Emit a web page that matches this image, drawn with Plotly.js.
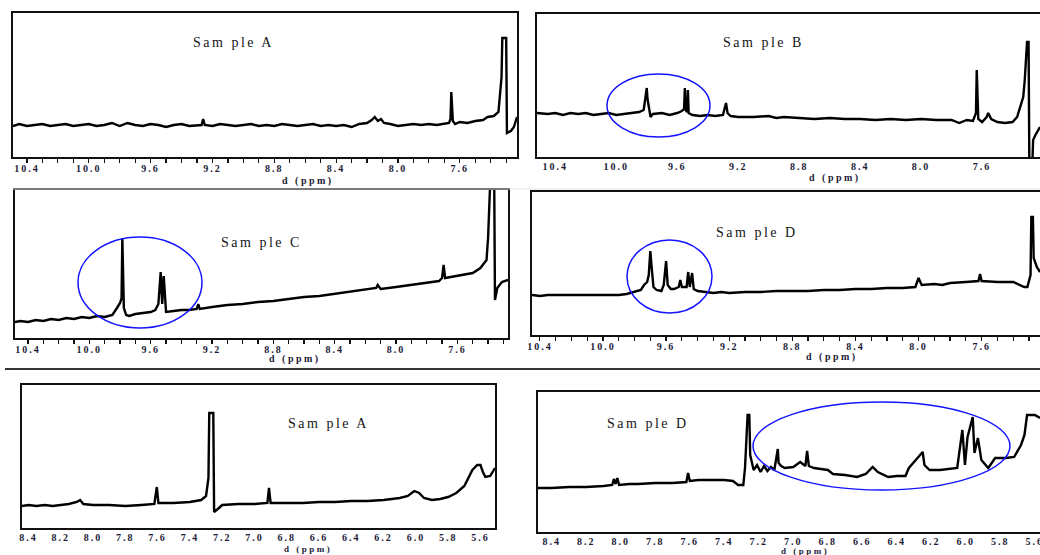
<!DOCTYPE html>
<html>
<head>
<meta charset="utf-8">
<script src="https://cdn.plot.ly/plotly-3.0.1.min.js"></script>
<style>
  html, body { margin: 0; padding: 0; background: #fff; }
  #chart { width: 1040px; height: 555px; }
  .annotation-text { letter-spacing: 2.5px; }
  .xaxislayer-above text { letter-spacing: 2px; }
</style>
</head>
<body>
<div id="chart"></div>
<script>
// ---------------- DATA (chemical shift ppm, intensity in arbitrary units) ----------------
// Sample A, 10.5 - 7.2 ppm
const ppmA1 = [10.49,10.45,10.40,10.35,10.30,10.25,10.20,10.15,10.10,10.05,10.00,9.95,9.90,9.85,9.80,9.75,9.70,9.65,9.60,9.55,9.50,9.45,9.40,9.35,9.30,9.27,9.26,9.25,9.20,9.15,9.10,9.05,9.00,8.95,8.90,8.85,8.80,8.75,8.70,8.65,8.60,8.55,8.50,8.45,8.40,8.35,8.30,8.25,8.20,8.17,8.15,8.13,8.11,8.09,8.05,8.00,7.95,7.90,7.85,7.80,7.75,7.70,7.67,7.66,7.655,7.645,7.63,7.60,7.55,7.50,7.45,7.42,7.38,7.35,7.34,7.33,7.325,7.30,7.295,7.27,7.25,7.23];
const intA1 = [31,33,31,32,33,31,32,33,31,32,33,31,32,34,31,34,32,31,33,32,30,32,33,31,32,32,38,32,31,33,32,31,32,33,31,32,31,33,32,31,32,33,31,32,31,32,30,33,34,37,40,36,38,34,33,31,32,33,32,33,32,33,34,38,65,36,33,35,34,36,37,40,41,45,64,80,119,119,24,26,30,40];

// Sample B, 10.5 - 7.2 ppm
const ppmB1 = [10.52,10.45,10.40,10.35,10.30,10.25,10.20,10.15,10.10,10.05,10.00,9.95,9.90,9.85,9.82,9.81,9.80,9.795,9.785,9.775,9.76,9.70,9.65,9.60,9.57,9.555,9.55,9.545,9.535,9.53,9.525,9.50,9.45,9.40,9.35,9.30,9.29,9.28,9.27,9.25,9.20,9.10,9.00,8.95,8.90,8.80,8.70,8.60,8.50,8.40,8.30,8.20,8.10,8.00,7.90,7.80,7.75,7.70,7.66,7.64,7.635,7.625,7.60,7.57,7.56,7.54,7.50,7.45,7.40,7.37,7.35,7.33,7.32,7.305,7.295,7.29,7.27,7.265,7.25,7.22];
const intB1 = [44,43,44,42,44,43,44,42,43,44,42,43,44,45,47,57,69,58,50,40,43,44,42,44,46,48,69,47,45,67,44,42,41,42,41,42,48,54,44,41,40,40,41,39,40,39,38,39,38,38,37,38,37,38,37,37,34,37,36,44,87,38,35,40,44,38,35,34,35,40,50,60,77,115,115,-5,-5,17,22,30];

// Sample C, 10.5 - 7.3 ppm
const ppmC1 = [10.485,10.45,10.40,10.35,10.30,10.25,10.20,10.15,10.10,10.05,10.00,9.95,9.90,9.85,9.82,9.80,9.79,9.785,9.775,9.76,9.74,9.70,9.65,9.60,9.57,9.55,9.535,9.525,9.515,9.505,9.50,9.45,9.40,9.35,9.30,9.29,9.28,9.20,9.10,9.00,8.90,8.80,8.70,8.60,8.50,8.40,8.30,8.20,8.13,8.12,8.10,8.00,7.90,7.80,7.72,7.70,7.69,7.68,7.60,7.50,7.45,7.41,7.40,7.385,7.36,7.355,7.34,7.31,7.27];
const intC1 = [16,17,16,18,17,19,18,20,19,21,20,22,21,23,30,35,40,100,30,23,22,24,25,26,28,34,66,34,62,28,26,27,28,28,29,34,29,31,33,34,36,37,39,41,42,44,46,48,50,53,49,51,53,55,57,60,73,60,62,65,70,78,100,160,160,38,50,56,58];

// Sample D, 10.45 - 7.23 ppm
const ppmD1 = [10.45,10.40,10.35,10.30,10.20,10.10,10.00,9.90,9.85,9.80,9.76,9.74,9.72,9.71,9.70,9.69,9.68,9.66,9.63,9.615,9.60,9.59,9.57,9.55,9.52,9.51,9.50,9.47,9.46,9.45,9.435,9.425,9.40,9.35,9.30,9.25,9.20,9.10,9.00,8.90,8.80,8.70,8.60,8.50,8.40,8.30,8.20,8.10,8.02,8.00,7.98,7.90,7.85,7.80,7.70,7.62,7.61,7.60,7.50,7.40,7.33,7.31,7.29,7.285,7.275,7.27,7.25,7.23];
const intD1 = [40,39,40,40,40,40,40,40,41,43,45,50,53,60,84,65,48,45,44,50,74,50,46,46,48,55,48,48,63,48,62,46,44,43,42,43,42,43,43,44,44,44,45,45,46,46,47,47,48,57,50,51,50,52,53,54,61,54,53,53,48,48,60,118,118,77,68,63];

// Sample A, 8.45 - 5.5 ppm
const ppmA2 = [8.44,8.40,8.35,8.30,8.25,8.20,8.15,8.10,8.08,8.06,8.00,7.90,7.80,7.70,7.62,7.605,7.595,7.50,7.40,7.33,7.30,7.285,7.28,7.255,7.25,7.22,7.20,7.10,7.00,6.92,6.91,6.90,6.80,6.70,6.60,6.50,6.40,6.30,6.20,6.10,6.05,6.01,5.98,5.95,5.90,5.85,5.80,5.75,5.70,5.68,5.65,5.62,5.60,5.585,5.57,5.54,5.52,5.51];
const intA2 = [22,23,22,23,22,23,24,26,28,24,23,23,22,23,24,41,25,25,26,28,32,50,115,115,16,20,23,24,24,25,40,25,25,25,26,26,27,27,28,30,32,37,35,30,28,29,31,35,42,48,58,63,63,56,51,52,58,60];

// Sample D, 8.48 - 5.57 ppm
const ppmD2 = [8.48,8.40,8.30,8.20,8.10,8.05,8.04,8.03,8.02,8.01,7.95,7.90,7.80,7.70,7.62,7.61,7.60,7.55,7.50,7.40,7.35,7.32,7.29,7.28,7.265,7.255,7.25,7.23,7.21,7.19,7.17,7.15,7.13,7.11,7.09,7.085,7.07,7.05,7.00,6.96,6.93,6.92,6.91,6.88,6.80,6.77,6.70,6.63,6.58,6.54,6.51,6.45,6.40,6.35,6.33,6.29,6.25,6.24,6.21,6.15,6.05,6.02,6.005,5.99,5.96,5.95,5.93,5.91,5.87,5.83,5.77,5.72,5.68,5.66,5.645,5.60,5.57];
const intD2 = [44,44,45,45,46,47,53,48,54,47,48,48,49,49,50,59,51,52,52,52,51,47,47,64,117,117,77,62,67,60,66,61,65,62,83,69,66,64,65,70,66,81,66,64,62,58,57,55,58,65,60,55,56,56,64,72,80,67,62,62,64,102,67,95,115,79,94,72,64,74,74,75,87,97,117,117,114];

const sampleLabels = ["Sam ple A", "Sam ple B", "Sam ple C", "Sam ple D", "Sam ple A", "Sam ple D"];
const axisTitle = "d (ppm)";

// ---------------- LAYOUT ----------------
const W = 1040, H = 555;
const px = v => v / W;
const py = v => 1 - v / H;

const panels = [
  {box:[13,517,13,157],  xr:[10.49,7.23], yr:[0,144], dt:0.4, minor:true,  ppm:ppmA1, val:intA1,
   label:[233,43], title:[308,181], tsize:10},
  {box:[537,1040,14,157], xr:[10.52,7.22], yr:[0,143], dt:0.4, minor:false, ppm:ppmB1, val:intB1,
   label:[763,43], title:[835,178], tsize:10},
  {box:[15,508,190,338], xr:[10.485,7.27], yr:[0,148], dt:0.4, minor:true,  ppm:ppmC1, val:intC1,
   label:[261,243], title:[295,359], tsize:10},
  {box:[532,1040,192,335], xr:[10.45,7.23], yr:[0,143], dt:0.4, minor:true, ppm:ppmD1, val:intD1,
   label:[757,233], title:[832,357], tsize:10},
  {box:[22,495,385,528], xr:[8.44,5.51], yr:[0,143], dt:0.2, minor:false, ppm:ppmA2, val:intA2,
   label:[328,423], title:[308,549], tsize:9},
  {box:[538,1040,392,532], xr:[8.48,5.57], yr:[0,140], dt:0.2, minor:false, ppm:ppmD2, val:intD2,
   label:[648,423], title:[805,551], tsize:9}
];

const traces = [];
const layout = {
  width: W, height: H,
  margin: {l:0, r:0, t:0, b:0},
  paper_bgcolor: '#fff', plot_bgcolor: '#fff',
  showlegend: false,
  annotations: [],
  shapes: []
};

const tickFont = {family: 'Liberation Serif, DejaVu Serif, serif', size: 10, color: '#1c1c38', weight: 'bold'};

panels.forEach((p, i) => {
  const n = i + 1;
  const xa = 'xaxis' + (n === 1 ? '' : n);
  const ya = 'yaxis' + (n === 1 ? '' : n);
  const xr = 'x' + (n === 1 ? '' : n);
  const yr = 'y' + (n === 1 ? '' : n);
  traces.push({
    x: p.ppm, y: p.val, xaxis: xr, yaxis: yr,
    type: 'scatter', mode: 'lines',
    line: {color: '#000', width: 2.4},
    hoverinfo: 'skip'
  });
  const [l, r, t, b] = p.box;
  const ax = {
    domain: [px(l), Math.min(1, px(r))],
    anchor: yr,
    range: p.xr,
    dtick: p.dt, tick0: 0,
    tickformat: '.1f',
    ticks: p.minor ? 'outside' : '',
    ticklen: 4, tickwidth: 1.2, tickcolor: '#111',
    ticklabelstandoff: p.minor ? -3 : -1,
    ticklabeloverflow: 'allow',
    tickfont: tickFont,
    showline: true, linecolor: '#111', linewidth: 1.6, mirror: true,
    showgrid: false, zeroline: false, fixedrange: true
  };
  if (p.minor) ax.minor = {dtick: 0.1, ticks: 'outside', ticklen: 4, tickwidth: 1.2, tickcolor: '#111', showgrid: false};
  layout[xa] = ax;
  layout[ya] = {
    domain: [py(b), py(t)],
    anchor: xr,
    range: p.yr,
    showticklabels: false, ticks: '',
    showline: true, linecolor: '#111', linewidth: 1.6, mirror: true,
    showgrid: false, zeroline: false, fixedrange: true
  };
  layout.annotations.push({
    text: sampleLabels[i], xref: 'paper', yref: 'paper',
    x: px(p.label[0]), y: py(p.label[1]), xanchor: 'center', yanchor: 'middle',
    showarrow: false,
    font: {family: 'Liberation Serif, DejaVu Serif, serif', size: 14, color: '#141414'}
  });
  layout.annotations.push({
    text: axisTitle, xref: 'paper', yref: 'paper',
    x: px(p.title[0]), y: py(p.title[1]), xanchor: 'center', yanchor: 'middle',
    showarrow: false,
    font: {family: 'Liberation Serif, DejaVu Serif, serif', size: p.tsize, color: '#1c1c38', weight: 'bold'}
  });
});

const ellipses = [[607,710,74,137],[78,202,237,328],[627,712,240,313],[753,1010,402,490]];
ellipses.forEach(e => {
  layout.shapes.push({
    type: 'circle', xref: 'paper', yref: 'paper',
    x0: px(e[0]), x1: px(e[1]), y0: py(e[3]), y1: py(e[2]),
    line: {color: '#1414ff', width: 1.5}
  });
});
layout.shapes.push({type:'line', xref:'paper', yref:'paper', x0:px(5), x1:1, y0:py(369), y1:py(369),
  line:{color:'#333', width:2}});
layout.shapes.push({type:'line', xref:'paper', yref:'paper', x0:px(13), x1:1, y0:py(189), y1:py(189),
  line:{color:'#e2e2e2', width:1}});

Plotly.newPlot('chart', traces, layout, {staticPlot: true, displayModeBar: false});
</script>
</body>
</html>
